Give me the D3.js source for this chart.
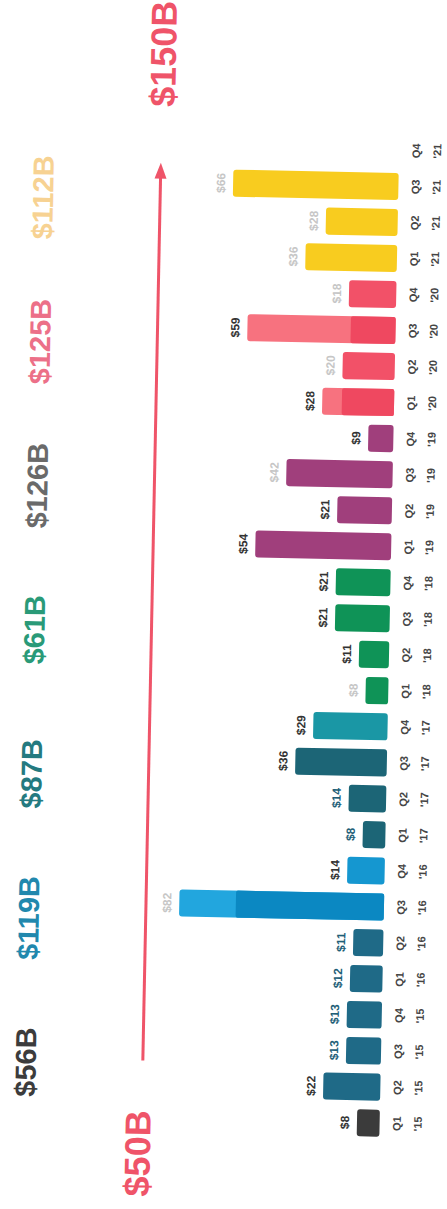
<!DOCTYPE html>
<html lang="en">
<head>
    <meta charset="UTF-8">
    <title>Quarterly totals</title>
    <script src="https://d3js.org/d3.v7.min.js"></script>
    <style>
        body { margin: 0; background: #fff; }
        svg { display: block; }
        text { font-family: "Liberation Sans", Arial, sans-serif; font-weight: bold; }
    </style>
</head>
<body>
    <script>
        // data
        const categories = ["Q1 '15", "Q2 '15", "Q3 '15", "Q4 '15",
                            "Q1 '16", "Q2 '16", "Q3 '16", "Q4 '16",
                            "Q1 '17", "Q2 '17", "Q3 '17", "Q4 '17",
                            "Q1 '18", "Q2 '18", "Q3 '18", "Q4 '18",
                            "Q1 '19", "Q2 '19", "Q3 '19", "Q4 '19",
                            "Q1 '20", "Q2 '20", "Q3 '20", "Q4 '20",
                            "Q1 '21", "Q2 '21", "Q3 '21", "Q4 '21"];
        const values = [8, 22, 13, 13,
                        12, 11, 82, 14,
                        8, 14, 36, 29,
                        8, 11, 21, 21,
                        54, 21, 42, 9,
                        28, 20, 59, 18,
                        36, 28, 66, null];
        // darker base part of the two-tone bars
        const coreValues = { "Q3 '16": 59, "Q1 '20": 20, "Q3 '20": 17 };
        const years = ["'15", "'16", "'17", "'18", "'19", "'20", "'21"];
        const yearTotals = ["$56B", "$119B", "$87B", "$61B", "$126B", "$125B", "$112B"];
        const arrowLabels = ["$50B", "$150B"];

        // styles
        const barColor = {
            "Q1 '15": "#3b3b3b",
            "Q3 '16": "#1b9fd8", "Q4 '16": "#1597d0",
            "Q1 '17": "#1c6576", "Q2 '17": "#1c6576", "Q3 '17": "#1c6576",
            "Q4 '17": "#1a97a5"
        };
        const yearColor = { "'15": "#1f6a87", "'16": "#1f6a87", "'18": "#0f9357",
                            "'19": "#a03f7c", "'20": "#f25168", "'21": "#f8cc1f" };
        const lightColor = { "Q3 '16": "#22a6de", "Q1 '20": "#f7727f", "Q3 '20": "#f7727f" };
        const coreColor = { "Q3 '16": "#0b88c2", "Q1 '20": "#ef4860", "Q3 '20": "#ef4860" };
        const totalColors = ["#3c3c3c", "#2188ad", "#247a80", "#2a9a78", "#6a6a6a", "#ec7088", "#f5c46e"];
        const faint = new Set(["Q3 '16", "Q1 '18", "Q3 '19", "Q2 '20", "Q4 '20", "Q1 '21", "Q2 '21", "Q3 '21"]);
        const tealLabels = new Set(["Q3 '15", "Q4 '15", "Q1 '16", "Q2 '16", "Q1 '17", "Q2 '17"]);
        const red = "#ef5469";

        const W = 447, H = 1209;
        const base = 390;

        const svg = d3.select("body").append("svg")
            .attr("width", W)
            .attr("height", H);

        // whole chart is drawn sideways, slightly tilted
        const g = svg.append("g")
            .attr("transform", `rotate(1.15, ${W / 2}, ${H / 2}) translate(0, ${H}) rotate(-90)`);

        const x = d3.scaleBand()
            .domain(categories)
            .range([71, 1080])
            .paddingInner(0.25)
            .paddingOuter(0.125);

        const y = d3.scaleLinear()
            .domain([0, 150])
            .range([base - 3, base - 3 - 369]);

        const data = categories.map((c, i) => ({ cat: c, value: values[i], core: coreValues[c] }));
        const bars = data.filter(d => d.value != null);

        const colorOf = d => barColor[d.cat] || yearColor[d.cat.split(" ")[1]];

        // bars
        g.append("g").selectAll("rect")
            .data(bars)
            .join("rect")
            .attr("x", d => x(d.cat))
            .attr("width", x.bandwidth())
            .attr("y", d => y(d.value))
            .attr("height", d => base - y(d.value))
            .attr("rx", 3)
            .attr("fill", d => lightColor[d.cat] || colorOf(d));

        g.append("g").selectAll("rect")
            .data(bars.filter(d => d.core))
            .join("rect")
            .attr("x", d => x(d.cat))
            .attr("width", x.bandwidth())
            .attr("y", d => y(d.core))
            .attr("height", d => base - y(d.core))
            .attr("rx", 2)
            .attr("fill", d => coreColor[d.cat]);

        // value labels
        g.append("g").selectAll("text")
            .data(bars)
            .join("text")
            .attr("x", d => x(d.cat) + x.bandwidth() / 2)
            .attr("y", d => y(d.value) - 8)
            .attr("text-anchor", "middle")
            .attr("font-size", 12)
            .attr("fill", d => faint.has(d.cat) ? "#c6c6c6" : tealLabels.has(d.cat) ? "#1f5f78" : "#333")
            .text(d => "$" + d.value);

        // category labels, two lines
        const cl = g.append("g").selectAll("g")
            .data(categories)
            .join("g")
            .attr("transform", d => `translate(${x(d) + x.bandwidth() / 2}, 0)`);
        cl.append("text")
            .attr("y", 411)
            .attr("text-anchor", "middle")
            .attr("font-size", 11)
            .attr("fill", "#454545")
            .text(d => d.split(" ")[0]);
        cl.append("text")
            .attr("y", 432)
            .attr("text-anchor", "middle")
            .attr("font-size", 11)
            .attr("fill", "#454545")
            .text(d => d.split(" ")[1]);

        // yearly totals
        g.append("g").selectAll("text")
            .data(years)
            .join("text")
            .attr("x", yr => {
                const cs = categories.filter(c => c.endsWith(yr));
                return (x(cs[0]) + x(cs[cs.length - 1]) + x.bandwidth()) / 2;
            })
            .attr("y", 45)
            .attr("text-anchor", "middle")
            .attr("font-size", 29)
            .attr("fill", (yr, i) => totalColors[i])
            .attr("opacity", (yr, i) => i === 6 ? 0.75 : 1)
            .text((yr, i) => yearTotals[i]);

        // red arrow
        const ax = d3.scaleLinear().domain([0, 1]).range([147, 1039]);
        const ay = 152;
        g.append("line")
            .attr("x1", ax(0)).attr("x2", ax(1) - 6)
            .attr("y1", ay).attr("y2", ay)
            .attr("stroke", red)
            .attr("stroke-width", 3);
        g.append("path")
            .attr("d", d3.line()([[ax(1) + 6, ay], [ax(1) - 10, ay - 6], [ax(1) - 10, ay + 6]]) + "Z")
            .attr("fill", red);

        g.append("text")
            .attr("x", 54).attr("y", 161)
            .attr("text-anchor", "middle")
            .attr("font-size", 36)
            .attr("fill", red)
            .text(arrowLabels[0]);
        g.append("text")
            .attr("x", 1154).attr("y", 165)
            .attr("text-anchor", "middle")
            .attr("font-size", 36)
            .attr("fill", red)
            .text(arrowLabels[1]);
    </script>
</body>
</html>
